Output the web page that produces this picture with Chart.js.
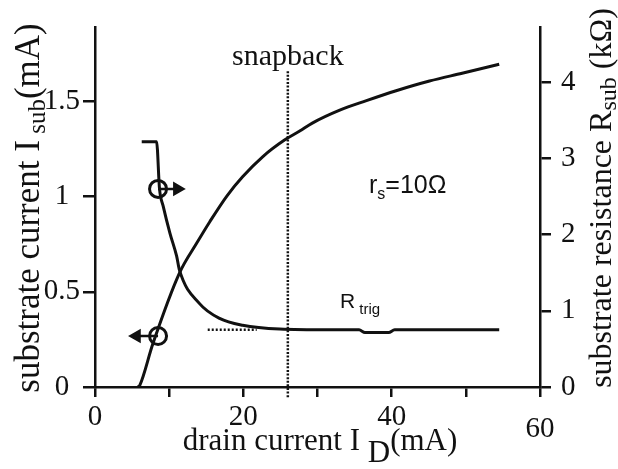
<!DOCTYPE html>
<html>
<head>
<meta charset="utf-8">
<script src="https://cdn.jsdelivr.net/npm/chart.js@4/dist/chart.umd.min.js"></script>
<style>
  html, body { margin: 0; padding: 0; background: #fff; }
  #wrap { width: 618px; height: 469px; }
</style>
</head>
<body>
<div id="wrap"><canvas id="chart" width="618" height="469"></canvas></div>
<script>
/* data */
const isubX = [5.8, 6.05, 7.8, 11.4, 13.7, 15.5, 17.8, 19.9, 22.6, 25.6, 27.6, 29.3, 33.0, 36.6, 40.6, 45.1, 49.5, 54.5];
const isubY = [0, 0.01, 0.227, 0.60, 0.755, 0.87, 1.005, 1.105, 1.21, 1.299, 1.345, 1.387, 1.455, 1.505, 1.557, 1.608, 1.649, 1.696];

const rsubX = [6.3, 8.3, 8.7, 9.2, 10.1, 11.0, 11.4, 14.1, 16.8, 19.9, 24.9, 31.6, 35.6, 36.4, 39.6, 40.4, 54.5];
const rsubY = [3.22, 3.22, 2.60, 2.37, 2.02, 1.72, 1.53, 1.094, 0.90, 0.81, 0.76, 0.75, 0.75, 0.715, 0.715, 0.75, 0.75];

const rtrigX = [15.2, 21.8];
const rtrigY = [0.75, 0.75];

const snapX = 26;
const snapY = [1.66, -0.055];

const xTicks = [0, 20, 40, 60];
const isubTicks = [0, 0.5, 1, 1.5];
const rsubTicks = [0, 1, 2, 3, 4];

/* markers: circle on each curve with an arrow to its axis */
const rMark = { x: 8.5, y: 2.60, head: 11.1 };
const iMark = { x: 8.5, y: 0.268, head: 5.6 };

const SERIF = '"Liberation Serif", "Times New Roman", serif';
const SANS = '"Liberation Sans", Arial, sans-serif';
const pts = (xs, ys) => xs.map((x, i) => ({ x, y: ys[i] }));

const line = (data, yAxisID, extra={}) => Object.assign({
  data, yAxisID, showLine: true, borderColor: '#111', borderWidth: 3, pointRadius: 0,
  fill: false, cubicInterpolationMode: 'monotone'
}, extra);

/* hand lettered labels and axis titles */
const labels = {
  id: 'labels',
  afterDraw(chart){
    const ctx = chart.ctx, x = chart.scales.x;
    const seq = (parts, x0, y0) => {
      let cx = x0;
      parts.forEach(([t, size, font, dy]) => {
        ctx.font = `${size}px ${font}`;
        ctx.fillText(t, cx, y0 + (dy||0));
        cx += ctx.measureText(t).width;
      });
    };
    const width = parts => parts.reduce((w, [t, size, font]) => {
      ctx.font = `${size}px ${font}`; return w + ctx.measureText(t).width;
    }, 0);
    ctx.save();
    ctx.fillStyle = '#111';
    ctx.textBaseline = 'alphabetic';
    ctx.textAlign = 'left';

    /* left title */
    const lt = [['substrate current I', 35, SERIF], [' sub', 25, SERIF, 6], ['(mA)', 35, SERIF]];
    ctx.save();
    ctx.translate(39, 208); ctx.rotate(-Math.PI/2);
    seq(lt, -width(lt)/2, 0);
    ctx.restore();

    /* right title */
    const rt = [['substrate resistance R', 32, SERIF], ['sub', 24, SERIF, 5], [' (k\u03A9)', 32, SERIF]];
    ctx.save();
    ctx.translate(611, 198); ctx.rotate(-Math.PI/2);
    seq(rt, -width(rt)/2, 0);
    ctx.restore();

    /* x title */
    const xt = [['drain current I ', 31, SERIF], ['D', 31, SERIF, 12], ['(mA)', 31, SERIF]];
    seq(xt, 320 - width(xt)/2, 450);

    /* snapback */
    ctx.font = `30px ${SERIF}`;
    ctx.textAlign = 'center';
    ctx.fillText('snapback', x.getPixelForValue(snapX), 65);
    ctx.textAlign = 'left';

    /* r_s = 10 ohm */
    seq([['r', 25, SANS], ['s', 16, SANS, 6], ['=10\u03A9', 25, SANS]], 369, 193);

    /* R_trig */
    seq([['R', 21, SANS], [' trig', 15, SANS, 6]], 340, 308);
    ctx.restore();
  }
};

const font60 = c => (c.tick && c.tick.value === 60)
  ? { family: SERIF, size: 29, lineHeight: 1.85 }
  : { family: SERIF, size: 29, lineHeight: 1 };

const plain = { cubicInterpolationMode: 'default' };

new Chart(document.getElementById('chart'), {
  type: 'scatter',
  data: {
    datasets: [
      line(pts(isubX, isubY), 'yL'),
      line(pts(rsubX, rsubY), 'yR'),
      line(pts(rtrigX, rtrigY), 'yR', { ...plain, borderDash: [2, 2], borderWidth: 2.5 }),
      line(pts([snapX, snapX], snapY), 'yL', { ...plain, borderDash: [2, 1.6], borderWidth: 2.5, clip: false }),
      /* arrows */
      line([{x: rMark.x, y: rMark.y}, {x: rMark.head, y: rMark.y}], 'yR',
        { ...plain, borderWidth: 2.5, pointRadius: [0, 6], pointStyle: 'triangle', rotation: 90, pointBackgroundColor: '#111', pointBorderColor: '#111' }),
      line([{x: iMark.x, y: iMark.y}, {x: iMark.head, y: iMark.y}], 'yL',
        { ...plain, borderWidth: 2.5, pointRadius: [0, 6], pointStyle: 'triangle', rotation: -90, pointBackgroundColor: '#111', pointBorderColor: '#111' }),
      /* circles */
      { data: [{x: rMark.x, y: rMark.y}], yAxisID: 'yR', showLine: false, pointRadius: 8.5, pointBorderWidth: 3, pointBorderColor: '#111', pointBackgroundColor: 'rgba(0,0,0,0)' },
      { data: [{x: iMark.x, y: iMark.y}], yAxisID: 'yL', showLine: false, pointRadius: 8.5, pointBorderWidth: 3, pointBorderColor: '#111', pointBackgroundColor: 'rgba(0,0,0,0)' }
    ]
  },
  options: {
    responsive: false,
    animation: false,
    events: [],
    layout: { padding: { top: 20 } },
    plugins: { legend: { display: false }, tooltip: { enabled: false } },
    scales: {
      x: {
        type: 'linear', min: 0, max: 60,
        afterFit: s => { s.height = 82; },
        afterBuildTicks: s => { s.ticks = [0,10,20,30,40,50,60].map(v => ({ value: v })); },
        border: { display: true, color: '#111', width: 2.5 },
        grid: { drawOnChartArea: false, drawTicks: true, tickLength: 10, color: '#111', lineWidth: 2.5 },
        ticks: {
          color: '#111', padding: 6, maxRotation: 0, autoSkip: false,
          font: font60,
          callback: v => xTicks.includes(v) ? String(v) : ''
        }
      },
      yL: {
        type: 'linear', position: 'left', min: 0, max: 1.89,
        afterFit: s => { s.width = 95; },
        afterBuildTicks: s => { s.ticks = isubTicks.map(v => ({ value: v })); },
        border: { display: true, color: '#111', width: 2.5 },
        grid: { drawOnChartArea: false, drawTicks: true, tickLength: 12, color: '#111', lineWidth: 2.5 },
        ticks: { color: '#111', padding: 3, crossAlign: 'center', font: { family: SERIF, size: 29 },
          callback: v => String(v) }
      },
      yR: {
        type: 'linear', position: 'right', min: 0, max: 4.72,
        afterFit: s => { s.width = 78; },
        afterBuildTicks: s => { s.ticks = rsubTicks.map(v => ({ value: v })); },
        border: { display: true, color: '#111', width: 2.5 },
        grid: { drawOnChartArea: false, drawTicks: true, tickLength: 11, color: '#111', lineWidth: 2.5 },
        ticks: { color: '#111', padding: 10, font: { family: SERIF, size: 29 },
          callback: v => String(v) }
      }
    }
  },
  plugins: [labels]
});
</script>
</body>
</html>
